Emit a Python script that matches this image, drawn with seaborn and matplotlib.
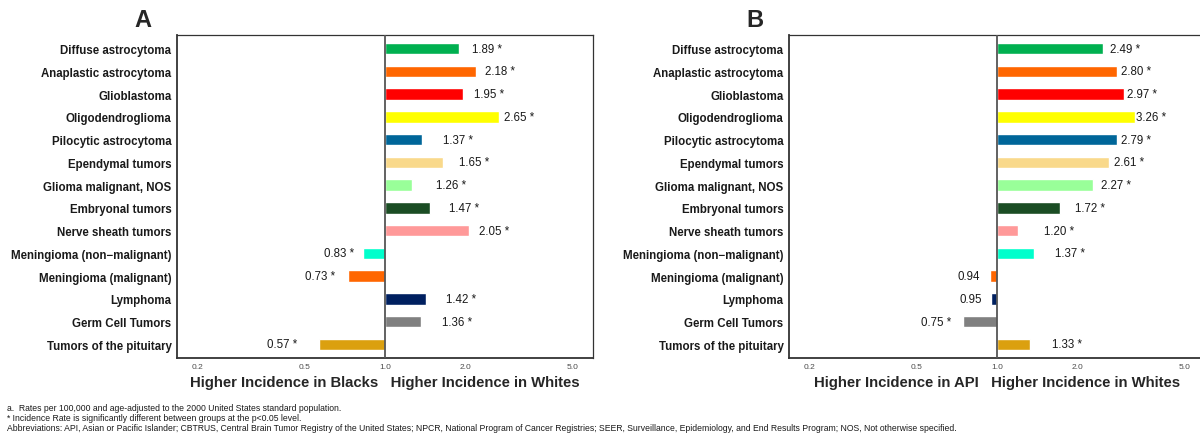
import numpy as np
import pandas as pd
import matplotlib
matplotlib.use("Agg")
import matplotlib.pyplot as plt
import seaborn as sns

# tumor types, top to bottom
tumor_types = [
    "Diffuse astrocytoma", "Anaplastic astrocytoma", "Glioblastoma",
    "Oligodendroglioma", "Pilocytic astrocytoma", "Ependymal tumors",
    "Glioma malignant, NOS", "Embryonal tumors", "Nerve sheath tumors",
    "Meningioma (non\u2212malignant)", "Meningioma (malignant)", "Lymphoma",
    "Germ Cell Tumors", "Tumors of the pituitary",
]
bar_colors = [
    "#00B050", "#FF6600", "#FF0000", "#FFFF00", "#006699", "#F9D98B",
    "#99FF99", "#1B4D24", "#FF9999", "#00FFCC", "#FF6600", "#002060",
    "#808080", "#DBA00F",
]

# incidence rate ratios (whites vs blacks, whites vs API)
irr_black = [1.89, 2.18, 1.95, 2.65, 1.37, 1.65, 1.26, 1.47, 2.05, 0.83, 0.73, 1.42, 1.36, 0.57]
sig_black = [True] * 14
irr_api = [2.49, 2.80, 2.97, 3.26, 2.79, 2.61, 2.27, 1.72, 1.20, 1.37, 0.94, 0.95, 0.75, 1.33]
sig_api = [True] * 10 + [False, False] + [True, True]

tick_values = [0.2, 0.5, 1.0, 2.0, 5.0]
tick_labels = ["0.2", "0.5", "1.0", "2.0", "5.0"]

footnotes = [
    "a.  Rates per 100,000 and age-adjusted to the 2000 United States standard population.",
    "* Incidence Rate is significantly different between groups at the p<0.05 level.",
    "Abbreviations: API, Asian or Pacific Islander; CBTRUS, Central Brain Tumor Registry of the United States; "
    "NPCR, National Program of Cancer Registries; SEER, Surveillance, Epidemiology, and End Results Program; "
    "NOS, Not otherwise specified.",
]

sns.set_theme(style="white")
plt.rcParams["font.family"] = ["Liberation Sans", "DejaVu Sans"]

palette = dict(zip(tumor_types, bar_colors))


def draw_panel(ax, ratios, sig, xlabel, letter):
    df = pd.DataFrame({"type": tumor_types, "ratio": ratios})
    # bars run from ratio 1 on a log axis -> plot log10 of the ratio
    df["log_ratio"] = np.log10(df["ratio"])
    sns.barplot(data=df, x="log_ratio", y="type", hue="type", order=tumor_types,
                hue_order=tumor_types, palette=palette, saturation=1, width=0.5,
                errorbar=None, legend=False, orient="h", ax=ax)
    ax.axvline(0, color="#555555", lw=1.3, zorder=3)

    for i, (v, s) in enumerate(zip(ratios, sig)):
        txt = f"{v:.2f} *" if s else f"{v:.2f}"
        xpos = v + 0.5 if v > 1 else v - 0.155
        ax.text(np.log10(xpos), i, txt, ha="center", va="center",
                fontsize=8.3, color="#1a1a1a")

    ax.set_xlim(-0.775, 0.775)
    ax.set_ylim(13.6, -0.6)
    ax.set_xticks(np.log10(tick_values))
    ax.set_xticklabels(tick_labels, fontsize=6, color="#4d4d4d")
    ax.set_ylabel("")
    ax.set_xlabel(xlabel, fontsize=10.7, fontweight="bold", labelpad=3.5)
    for lab in ax.get_yticklabels():
        lab.set_fontweight("bold")
        lab.set_fontsize(8.3)
        lab.set_color("#1a1a1a")
    ax.tick_params(axis="y", length=3, width=0.6, color="#333333", pad=1)
    ax.tick_params(axis="x", length=2, width=0.6, color="#333333", pad=1.5)
    for side, sp in ax.spines.items():
        sp.set_color("#333333")
        sp.set_linewidth(1.3 if side in ("left", "bottom") else 0.9)

    pos = ax.get_position()
    ax.figure.text(pos.x0 - 0.028, 0.954, letter, fontsize=17, fontweight="bold",
                   ha="center", va="center")


fig = plt.figure(figsize=(12, 4.35), dpi=100)
ax_a = fig.add_axes([0.1475, 0.1747, 0.3467, 0.7425])
ax_b = fig.add_axes([0.6575, 0.1747, 0.3467, 0.7425])

draw_panel(ax_a, irr_black, sig_black,
           "Higher Incidence in Blacks   Higher Incidence in Whites", "A")
draw_panel(ax_b, irr_api, sig_api,
           "Higher Incidence in API   Higher Incidence in Whites", "B")

for k, line in enumerate(footnotes):
    fig.text(0.006, 0.062 - k * 0.0235, line, fontsize=6.2, color="#1a1a1a",
             ha="left", va="center")

fig.savefig("out.png", dpi=100)
